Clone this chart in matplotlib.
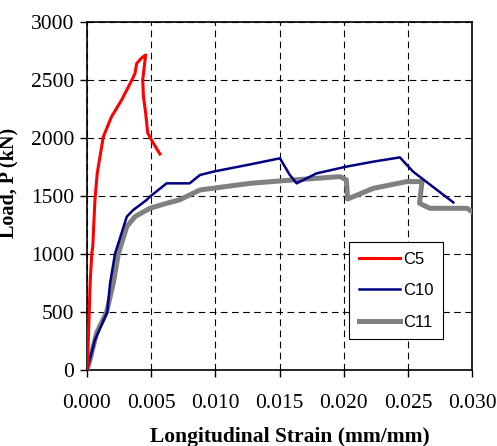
import matplotlib.pyplot as plt

# C5 specimen
c5_strain = [0.0, 0.00005, 0.00018, 0.00025, 0.00037, 0.00045, 0.00062, 0.0008, 0.00127, 0.0019,
             0.0027, 0.0035, 0.00374, 0.00387, 0.00426, 0.00457, 0.00434, 0.0044,
             0.00457, 0.00473, 0.00516, 0.00568]
c5_load = [0, 86, 517, 760, 1000, 1063, 1466, 1698, 2009, 2181,
           2328, 2500, 2557, 2643, 2690, 2716, 2500, 2356,
           2215, 2043, 1957, 1862]

# C10 specimen
c10_strain = [0.0, 0.00062, 0.00158, 0.0018, 0.00218, 0.0031, 0.0036, 0.00465, 0.0049,
              0.0062, 0.0080, 0.0088, 0.00984, 0.0127, 0.01503, 0.0158, 0.01633,
              0.01788, 0.0202, 0.0223, 0.02437, 0.0254, 0.02853]
c10_load = [0, 259, 500, 748, 1000, 1322, 1379, 1466, 1494,
            1609, 1609, 1681, 1710, 1772, 1825, 1681, 1609,
            1695, 1753, 1796, 1833, 1710, 1445]

# C11 specimen
c11_strain = [0.0, 0.00023, 0.00075, 0.00153, 0.00205, 0.00244, 0.0031, 0.00374, 0.0049,
              0.0062, 0.0072, 0.0088, 0.0127, 0.0153, 0.0197, 0.0202, 0.0203,
              0.0223, 0.0249, 0.0261, 0.0259, 0.0267, 0.0296, 0.0300]
c11_load = [0, 86, 319, 500, 748, 1000, 1236, 1322, 1394,
            1437, 1466, 1552, 1609, 1632, 1667, 1640, 1474,
            1566, 1624, 1624, 1437, 1394, 1394, 1365]

plt.rcParams['font.family'] = ['Liberation Serif', 'DejaVu Serif']

fig = plt.figure(figsize=(4.97, 4.46), dpi=100)
ax = fig.add_axes([0.175, 0.1704, 0.775, 0.7803])

ax.plot(c11_strain, c11_load, color='#808080', lw=3.6, label='C11', zorder=3)
ax.plot(c10_strain, c10_load, color='#000080', lw=1.8, label='C10', zorder=4)
ax.plot(c5_strain, c5_load, color='#ff0000', lw=2.2, label='C5', zorder=5)

ax.set_xlim(0, 0.030)
ax.set_ylim(0, 3000)
ax.set_xticks([0.0, 0.005, 0.010, 0.015, 0.020, 0.025, 0.030])
ax.set_xticklabels(['0.000', '0.005', '0.010', '0.015', '0.020', '0.025', '0.030'])
ax.set_yticks(range(0, 3001, 500))
ax.tick_params(labelsize=15.5, length=5, width=1, direction='out', pad=4)
ax.tick_params(axis='x', pad=12)
ax.grid(True, color='black', linestyle=(0, (6, 4)), linewidth=0.8)
for s in ax.spines.values():
    s.set_linewidth(1.2)

ax.set_xlabel('Longitudinal Strain (mm/mm)', fontsize=15.5, fontweight='bold')
ax.set_ylabel('Load, P (kN)', fontsize=14.5, fontweight='bold')
ax.xaxis.set_label_coords(0.527, -0.165)
ax.yaxis.set_label_coords(-0.177, 0.537)

handles, labels = ax.get_legend_handles_labels()
order = [2, 1, 0]
leg = ax.legend([handles[i] for i in order], [labels[i] for i in order],
                loc='lower right', bbox_to_anchor=(0.925, 0.089), borderaxespad=0,
                prop={'family': 'Liberation Sans', 'size': 12},
                frameon=True, fancybox=False, edgecolor='black', framealpha=1,
                handlelength=2.5, handletextpad=0.2, borderpad=0.55, labelspacing=1.0)
leg.get_frame().set_linewidth(0.8)

fig.savefig('out.png', dpi=100)
